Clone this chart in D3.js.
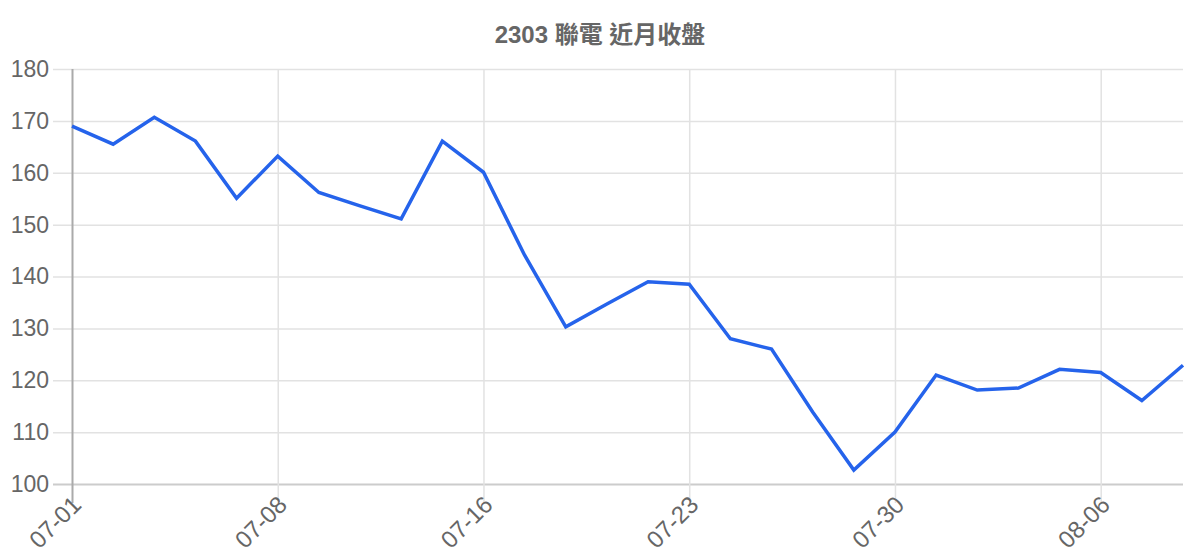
<!DOCTYPE html>
<html>
<head>
<meta charset="utf-8">
<script src="https://cdn.jsdelivr.net/npm/d3@7"></script>
<style>
  body { margin: 0; background: #fff; }
  text { font-family: "Liberation Sans", Arial, "Noto Sans CJK TC", sans-serif; fill: #666; }
</style>
</head>
<body>
<div id="chart"></div>
<script>
// chart data
const title = "2303 聯電 近月收盤";
const dates = ["07-01","07-02","07-03","07-04","07-07","07-08","07-09","07-10","07-11","07-14",
               "07-16","07-17","07-18","07-21","07-22","07-23","07-24","07-25","07-28","07-29",
               "07-30","07-31","08-01","08-04","08-05","08-06","08-07","08-08"];
const closes = [169.0,165.5,170.7,166.1,155.1,163.2,156.2,153.6,151.1,166.1,
                160.1,144.1,130.3,134.7,139.0,138.5,128.0,126.0,113.9,102.7,
                110.0,121.0,118.1,118.5,122.1,121.5,116.1,122.9];
const yTicks = [100,110,120,130,140,150,160,170,180];

// set the dimensions and margins of the graph
let margin = {top: 69, right: 17, bottom: 76, left: 72},
    width = 1200 - margin.left - margin.right,
    height = 560 - margin.top - margin.bottom;
const tickLen = 19;

let svg = d3.select("#chart")
    .append("svg")
    .attr("width", width + margin.left + margin.right)
    .attr("height", height + margin.top + margin.bottom);

// title
svg.append("text")
    .attr("x", 600)
    .attr("y", 43)
    .attr("text-anchor", "middle")
    .style("font-size", "24px")
    .style("font-weight", "bold")
    .text(title);

let g = svg.append("g")
    .attr("transform", `translate(${margin.left}, ${margin.top})`);

const x = d3.scalePoint()
    .domain(dates)
    .range([0, width]);

const y = d3.scaleLinear()
    .domain([100, 180])
    .range([height, 0]);

// y grid + labels
let yAxis = g.append("g")
    .attr("transform", `translate(${-tickLen},0)`)
    .call(d3.axisLeft(y).tickValues(yTicks).tickSize(-width - tickLen).tickPadding(4));
yAxis.select(".domain").remove();
yAxis.selectAll(".tick line")
    .attr("stroke", d => d === 100 ? "#ccc" : "#e2e2e2")
    .attr("stroke-width", d => d === 100 ? 2 : 1.5);
yAxis.selectAll(".tick text")
    .style("font-size", "23px")
    .attr("fill", "#666");

// x grid + labels, every 5th date shown
const shown = dates.filter((d, i) => i % 5 === 0);
let xAxis = g.append("g")
    .attr("transform", `translate(0, ${height + tickLen})`)
    .call(d3.axisBottom(x).tickValues(shown).tickSize(-height - tickLen).tickPadding(0));
xAxis.select(".domain").remove();
xAxis.selectAll(".tick line")
    .attr("stroke", (d, i) => i === 0 ? "#aaa" : "#e2e2e2")
    .attr("stroke-width", (d, i) => i === 0 ? 2 : 1.5);
xAxis.selectAll(".tick text")
    .style("font-size", "24px")
    .attr("fill", "#666")
    .attr("text-anchor", "end")
    .attr("y", 0)
    .attr("dy", "0.72em")
    .attr("transform", "translate(-2,-9) rotate(-45)");

// price line
g.append("path")
    .datum(closes)
    .attr("fill", "none")
    .attr("stroke", "#2563eb")
    .attr("stroke-width", 3.5)
    .attr("stroke-linejoin", "miter")
    .attr("d", d3.line()
        .x((d, i) => x(dates[i]))
        .y(d => y(d)));
</script>
</body>
</html>
